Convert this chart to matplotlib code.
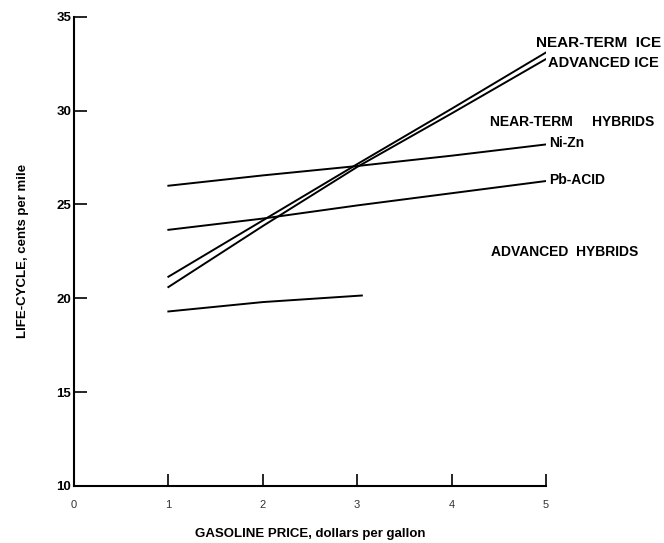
import matplotlib
matplotlib.use("Agg")
import matplotlib.pyplot as plt

# values (cents per mile vs. gasoline price)
price = [1, 2, 3, 4, 5]
near_term_ice = [21.15, 24.15, 27.15, 30.1, 33.1]
advanced_ice = [20.6, 23.85, 27.0, 29.85, 32.75]
ni_zn = [26.0, 26.55, 27.05, 27.6, 28.2]
pb_acid = [23.65, 24.25, 24.95, 25.6, 26.25]

adv_hyb_price = [1, 2, 3.05]
advanced_hybrids = [19.3, 19.8, 20.15]

x_ticks = [0, 1, 2, 3, 4, 5]
y_ticks = [10, 15, 20, 25, 30, 35]

plt.rcParams['font.family'] = ['Liberation Sans', 'DejaVu Sans']

fig = plt.figure(figsize=(6.64, 5.43), dpi=100)
ax = fig.add_axes([0.1114, 0.105, 0.7108, 0.864])

lw = 1.4
ax.plot(price, near_term_ice, color="black", lw=lw)
ax.plot(price, advanced_ice, color="black", lw=lw)
ax.plot(price, ni_zn, color="black", lw=lw)
ax.plot(price, pb_acid, color="black", lw=lw)
ax.plot(adv_hyb_price, advanced_hybrids, color="black", lw=lw)

ax.set_xlim(0, 5)
ax.set_ylim(10, 35)
ax.spines["top"].set_visible(False)
ax.spines["right"].set_visible(False)
ax.spines["left"].set_linewidth(1.5)
ax.spines["bottom"].set_linewidth(1.5)

ax.set_xticks(x_ticks)
ax.set_xticklabels([str(t) for t in x_ticks], fontsize=8, color="#333333")
ax.set_yticks(y_ticks)
ax.set_yticklabels([str(t) for t in y_ticks], fontsize=9.5, fontweight="bold")
ax.tick_params(axis="both", direction="in", length=9, width=1.2)
ax.tick_params(axis="x", pad=10)
ax.tick_params(axis="y", pad=2)

ax.set_xlabel("GASOLINE PRICE, dollars per gallon", fontsize=9.5,
              fontweight="bold", labelpad=13)
ax.set_ylabel("LIFE-CYCLE, cents per mile", fontsize=9.5,
              fontweight="bold", labelpad=20)

lab = dict(fontsize=10, fontweight="bold", va="center", ha="left", clip_on=False)
ax.text(4.89, 33.62, "NEAR-TERM  ICE", fontsize=11, fontweight="bold",
        va="center", ha="left", clip_on=False)
ax.text(5.02, 32.52, "ADVANCED ICE", fontsize=10.5, fontweight="bold",
        va="center", ha="left", clip_on=False)
ax.text(4.41, 29.41, "NEAR-TERM     HYBRIDS", **lab)
ax.text(5.03, 28.26, "Ni-Zn", **lab)
ax.text(5.03, 26.30, "Pb-ACID", **lab)
ax.text(4.42, 22.45, "ADVANCED  HYBRIDS", **lab)

fig.savefig("out.png", dpi=100)
